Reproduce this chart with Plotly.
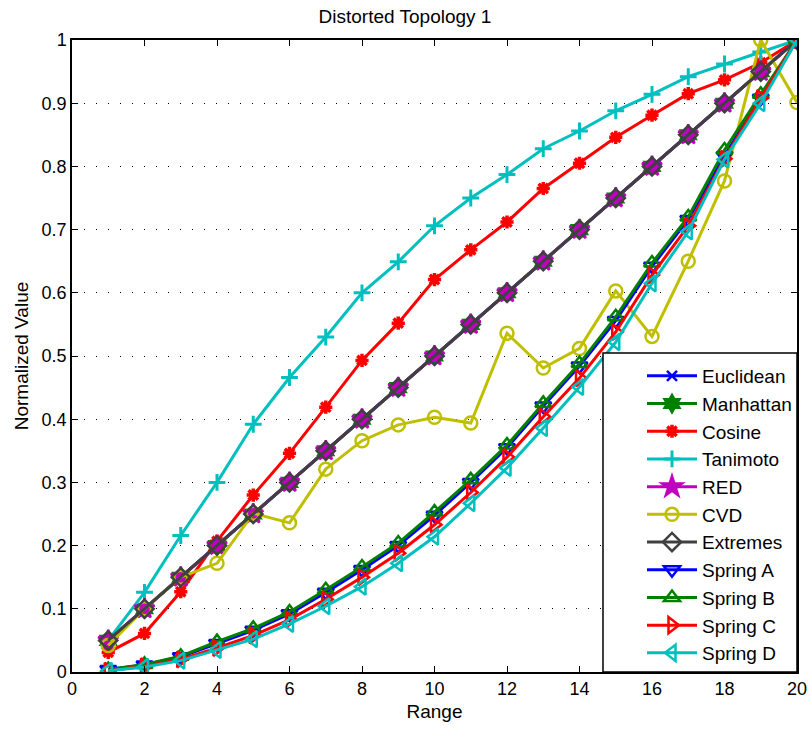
import plotly.graph_objects as go

x = list(range(1, 21))

euclidean = [0.05, 0.10, 0.15, 0.20, 0.25, 0.30, 0.35, 0.40, 0.45, 0.50, 0.55, 0.60, 0.65, 0.70, 0.75, 0.80, 0.85, 0.90, 0.95, 1.00]
manhattan = [0.05, 0.10, 0.15, 0.20, 0.25, 0.30, 0.35, 0.40, 0.45, 0.50, 0.55, 0.60, 0.65, 0.70, 0.75, 0.80, 0.85, 0.90, 0.95, 1.00]
cosine = [0.031, 0.061, 0.127, 0.207, 0.280, 0.346, 0.419, 0.493, 0.552, 0.621, 0.668, 0.712, 0.765, 0.805, 0.846, 0.881, 0.915, 0.937, 0.964, 1.00]
tanimoto = [0.050, 0.126, 0.216, 0.300, 0.392, 0.466, 0.530, 0.600, 0.649, 0.706, 0.750, 0.787, 0.828, 0.856, 0.888, 0.914, 0.942, 0.962, 0.981, 1.00]
red = [0.05, 0.10, 0.15, 0.20, 0.25, 0.30, 0.35, 0.40, 0.45, 0.50, 0.55, 0.60, 0.65, 0.70, 0.75, 0.80, 0.85, 0.90, 0.95, 1.00]
cvd = [0.042, 0.100, 0.150, 0.172, 0.251, 0.236, 0.321, 0.366, 0.391, 0.403, 0.394, 0.536, 0.481, 0.512, 0.603, 0.531, 0.650, 0.777, 1.000, 0.901]
extremes = [0.05, 0.10, 0.15, 0.20, 0.25, 0.30, 0.35, 0.40, 0.45, 0.50, 0.55, 0.60, 0.65, 0.70, 0.75, 0.80, 0.85, 0.90, 0.95, 1.00]
spring_a = [0.004, 0.011, 0.024, 0.045, 0.066, 0.092, 0.126, 0.162, 0.200, 0.248, 0.300, 0.355, 0.421, 0.484, 0.556, 0.642, 0.716, 0.817, 0.908, 1.00]
spring_b = [0.004, 0.012, 0.025, 0.048, 0.069, 0.095, 0.130, 0.166, 0.204, 0.253, 0.304, 0.359, 0.425, 0.488, 0.562, 0.647, 0.720, 0.826, 0.914, 1.00]
spring_c = [0.002, 0.009, 0.020, 0.038, 0.058, 0.083, 0.115, 0.150, 0.188, 0.233, 0.284, 0.340, 0.404, 0.465, 0.538, 0.628, 0.706, 0.812, 0.908, 1.00]
spring_d = [0.002, 0.008, 0.018, 0.035, 0.052, 0.076, 0.104, 0.135, 0.172, 0.214, 0.267, 0.323, 0.386, 0.451, 0.522, 0.615, 0.697, 0.811, 0.900, 1.00]

x_ticks = list(range(0, 21, 2))
y_ticks = [i / 10 for i in range(11)]
y_tick_labels = ["0", "0.1", "0.2", "0.3", "0.4", "0.5", "0.6", "0.7", "0.8", "0.9", "1"]

series = [
    ("Euclidean", euclidean, "#0000FF", "x-thin-open", 10, 2.5),
    ("Manhattan", manhattan, "#008000", "hexagram", 13, 2.5),
    ("Cosine", cosine, "#FF0000", "asterisk-open", 11, 3.5),
    ("Tanimoto", tanimoto, "#00BFBF", "cross-thin-open", 12, 3),
    ("RED", red, "#BF00BF", "star", 15, 2.5),
    ("CVD", cvd, "#BFBF00", "circle-open", 13, 2.5),
    ("Extremes", extremes, "#404040", "diamond-open", 14, 2.5),
    ("Spring A", spring_a, "#0000FF", "triangle-down-open", 14, 2.5),
    ("Spring B", spring_b, "#008000", "triangle-up-open", 14, 2.5),
    ("Spring C", spring_c, "#FF0000", "triangle-right-open", 14, 2.5),
    ("Spring D", spring_d, "#00BFBF", "triangle-left-open", 14, 2.5),
]

fig = go.Figure()
for name, ys, col, sym, sz, mlw in series:
    fig.add_trace(go.Scatter(
        x=x, y=ys, name=name, mode="lines+markers",
        line=dict(color=col, width=3),
        marker=dict(symbol=sym, size=sz, color=col, line=dict(color=col, width=mlw)),
    ))

axis_common = dict(
    showline=True, linecolor="black", linewidth=1.5, mirror="ticks",
    ticks="inside", ticklen=6, tickcolor="black", tickwidth=1,
    tickfont=dict(family="Liberation Sans, Arial", size=18, color="black"),
    zeroline=False, automargin=False,
)

# legend box (white, black border) drawn over the plot area like MATLAB's legend
fig.add_shape(type="rect", xref="paper", yref="paper",
              x0=0.7324, x1=1.0, y0=0.0, y1=0.5047, layer="above",
              fillcolor="white", line=dict(color="black", width=1.5))

fig.update_layout(
    width=810, height=733,
    margin=dict(l=72, r=13, t=40, b=61),
    paper_bgcolor="white", plot_bgcolor="white",
    font=dict(family="Liberation Sans, Arial", size=18, color="black"),
    title=dict(text="Distorted Topology 1", x=0.5, xanchor="center", y=0.978, yanchor="middle",
               font=dict(size=19, color="black")),
    xaxis=dict(range=[0, 20], tickvals=x_ticks, showgrid=False,
               title=dict(text="Range", standoff=6, font=dict(size=19)), **axis_common),
    yaxis=dict(range=[0, 1], tickvals=y_ticks, ticktext=y_tick_labels,
               showgrid=True, gridcolor="black", griddash="1px,11px", gridwidth=1,
               title=dict(text="Normalized Value", standoff=8, font=dict(size=19)), **axis_common),
    legend=dict(x=1, y=0, xanchor="right", yanchor="bottom", bgcolor="rgba(0,0,0,0)",
                borderwidth=0, font=dict(size=19, color="black"),
                itemwidth=50, tracegroupgap=0),
    showlegend=True,
)

fig.write_html("out.html")
